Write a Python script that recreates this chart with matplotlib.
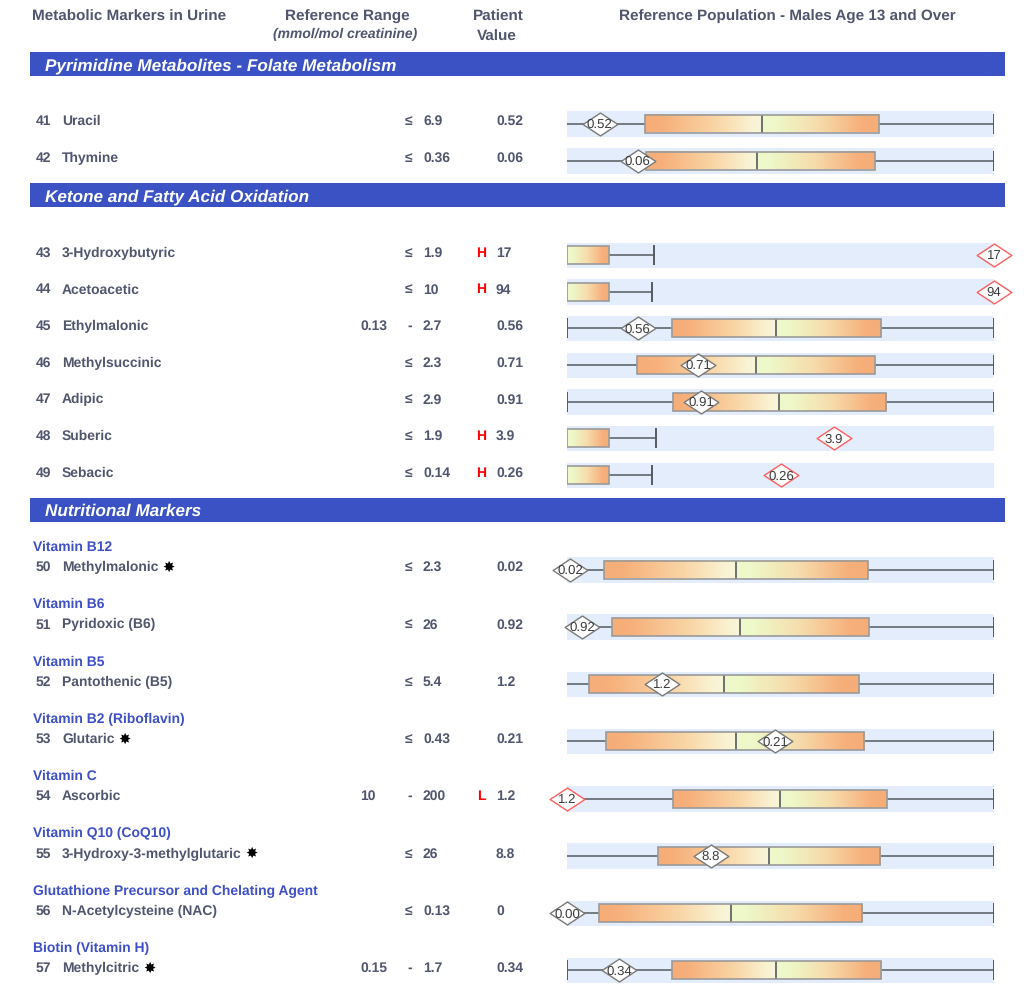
import numpy as np
import matplotlib
matplotlib.use('Agg')
import matplotlib.pyplot as plt
from matplotlib.patches import Rectangle
from matplotlib.path import Path
from matplotlib.colors import LinearSegmentedColormap

FONT = ['Liberation Sans', 'DejaVu Sans']
plt.rcParams['font.family'] = FONT
plt.rcParams['text.hinting'] = 'no_hinting'

# ---------------- data ----------------
section_titles = ['Pyrimidine Metabolites - Folate Metabolism',
                  'Ketone and Fatty Acid Oxidation',
                  'Nutritional Markers']
row_ids = list(range(41, 58))
row_names = ['Uracil', 'Thymine', '3-Hydroxybutyric', 'Acetoacetic', 'Ethylmalonic',
             'Methylsuccinic', 'Adipic', 'Suberic', 'Sebacic', 'Methylmalonic',
             'Pyridoxic (B6)', 'Pantothenic (B5)', 'Glutaric', 'Ascorbic',
             '3-Hydroxy-3-methylglutaric', 'N-Acetylcysteine (NAC)', 'Methylcitric']
row_section = [0, 0, 1, 1, 1, 1, 1, 1, 1, 2, 2, 2, 2, 2, 2, 2, 2]
vitamin_groups = [None] * 9 + ['Vitamin B12', 'Vitamin B6', 'Vitamin B5',
                               'Vitamin B2 (Riboflavin)', 'Vitamin C',
                               'Vitamin Q10 (CoQ10)',
                               'Glutathione Precursor and Chelating Agent',
                               'Biotin (Vitamin H)']
starred = [False] * 9 + [True, False, False, True, False, True, False, True]
ref_low = ['', '', '', '', '0.13', '', '', '', '', '', '', '', '', '10', '', '', '0.15']
ref_high = ['6.9', '0.36', '1.9', '10', '2.7', '2.3', '2.9', '1.9', '0.14',
            '2.3', '26', '5.4', '0.43', '200', '26', '0.13', '1.7']
flags = ['', '', 'H', 'H', '', '', '', 'H', 'H', '', '', '', '', 'L', '', '', '']
patient_values = ['0.52', '0.06', '17', '94', '0.56', '0.71', '0.91', '3.9', '0.26',
                  '0.02', '0.92', '1.2', '0.21', '1.2', '8.8', '0', '0.34']
marker_labels = ['0.52', '0.06', '17', '94', '0.56', '0.71', '0.91', '3.9', '0.26',
                 '0.02', '0.92', '1.2', '0.21', '1.2', '8.8', '0.00', '0.34']

# reference-population box plots, in track units (0 = left end, 100 = right end)
nan = np.nan
whisker_lo = [0, 0, nan, nan, 0, 0, 0, nan, nan, 0, 0, 0, 0, 0, 0, 0, 0]
q1 = [18.3, 18.5, 0, 0, 24.6, 16.4, 24.8, 0, 0, 8.7, 10.5, 5.2, 9.1, 24.8, 21.3, 7.5, 24.6]
median = [45.7, 44.5, 0, 0, 48.9, 44.3, 49.6, 0, 0, 39.6, 40.5, 36.8, 39.6, 49.9, 47.3, 38.4, 48.9]
q3 = [73.1, 72.1, 9.8, 9.8, 73.5, 72.1, 74.7, 9.8, 9.8, 70.5, 70.7, 68.4, 69.6, 74.9, 73.3, 69.1, 73.5]
whisker_hi = [100, 100, 20.4, 19.9, 100, 100, 100, 20.8, 19.9, 100, 100, 100, 100, 100, 100, 100, 100]
lo_cap = [False, False, False, False, True, False, True, False, False,
          False, False, False, False, True, False, False, True]
patient_pos = [7.7, 16.6, 100, 100, 16.6, 30.7, 31.4, 62.5, 50.1,
               0.7, 3.5, 22.2, 48.7, 0, 33.7, 0, 12.2]

# ---------------- layout ----------------
W, H = 1024, 1005
section_y = [64, 195, 509.5]
row_y = np.concatenate([123.5 + 37.0 * np.arange(2),
                        255 + 36.67 * np.arange(7),
                        569.5 + 57.27 * np.arange(8)])

TXT = '#51566f'
BLUE_BAR = '#3a52c4'
BLUE_TXT = '#3e50c8'
BAND = '#e3edfc'

fig = plt.figure(figsize=(W / 100, H / 100), dpi=100)
ax = fig.add_axes([0, 0, 1, 1])
ax.set_xlim(0, W)
ax.set_ylim(H, 0)
ax.axis('off')

TX0, TX1 = 567, 994
axt = fig.add_axes([TX0 / W, 0, (TX1 - TX0) / W, 1])
axt.patch.set_visible(False)
axt.axis('off')

# headers
ax.text(32, 20.5, 'Metabolic Markers in Urine', fontsize=11, fontweight='bold', color=TXT, va='baseline')
ax.text(347.5, 20.5, 'Reference Range', fontsize=11, fontweight='bold', color=TXT, va='baseline', ha='center')
ax.text(345, 38.5, '(mmol/mol creatinine)', fontsize=10, fontweight='bold', style='italic',
        color=TXT, va='baseline', ha='center')
ax.text(498, 20.5, 'Patient', fontsize=11, fontweight='bold', color=TXT, va='baseline', ha='center')
ax.text(497, 40.5, 'Value', fontsize=11, fontweight='bold', color=TXT, va='baseline', ha='center')
ax.text(787, 20.5, 'Reference Population - Males Age 13 and Over', fontsize=11,
        fontweight='bold', color=TXT, va='baseline', ha='center')

# section bars
for title, sy in zip(section_titles, section_y):
    ax.add_patch(Rectangle((30, sy - 12), 975, 24, fc=BLUE_BAR, ec='none'))
    ax.text(45, sy + 6.5, title, fontsize=12.3, fontweight='bold', style='italic',
            color='white', va='baseline')

left_cmap = LinearSegmentedColormap.from_list('l', [(0, '#f6ad78'), (0.15, '#f6b07b'),
                                                    (0.6, '#f9d5a5'), (0.92, '#f9f3d3'),
                                                    (1, '#f8f5d8')])
right_cmap = LinearSegmentedColormap.from_list('r', [(0, '#eff8cb'), (0.12, '#eef8c8'),
                                                     (0.48, '#f6dcac'), (0.85, '#f6b07b'),
                                                     (1, '#f6ad78')])
grad = np.linspace(0, 1, 256)[None, :]

diamond = Path([(-1, 0), (0, 0.66), (1, 0), (0, -0.66), (-1, 0)],
               [Path.MOVETO, Path.LINETO, Path.LINETO, Path.LINETO, Path.CLOSEPOLY])

fig.canvas.draw()
for i in range(len(row_ids)):
    y = row_y[i]
    tb = y + 1.7
    ax.text(36, tb, str(row_ids[i]), fontsize=10, fontweight='bold', color=TXT, va='baseline')
    nt = ax.text(62, tb, row_names[i], fontsize=10, fontweight='bold', color=TXT, va='baseline')
    if starred[i]:
        ax.annotate('\u2738', xy=(1, 0.5), xycoords=nt, xytext=(3, 0), textcoords='offset points',
                    fontsize=10.5, color='black', va='center', ha='left', family=['DejaVu Sans'])
    if vitamin_groups[i]:
        ax.text(33, y - 18.5, vitamin_groups[i], fontsize=10, fontweight='bold',
                color=BLUE_TXT, va='baseline')
    if ref_low[i]:
        ax.text(360, tb, ref_low[i], fontsize=10, fontweight='bold', color=TXT, va='baseline')
        ax.text(410, tb, '-', fontsize=10, fontweight='bold', color=TXT, va='baseline', ha='center')
    else:
        ax.text(408.5, tb, '\u2264', fontsize=10, fontweight='bold', color=TXT, va='baseline', ha='center')
    ax.text(423, tb, ref_high[i], fontsize=10, fontweight='bold', color=TXT, va='baseline')
    if flags[i]:
        ax.text(481, tb, flags[i], fontsize=10, fontweight='bold', color='#ff0000',
                va='baseline', ha='center')
    ax.text(496, tb, patient_values[i], fontsize=10, fontweight='bold', color=TXT, va='baseline')

    # track
    axt.add_patch(Rectangle((-0.2, y - 12.5), 100.4, 25.5, fc=BAND, ec='none', zorder=0))
    lw = 1.1
    lc = '#555a60'
    if not np.isnan(whisker_lo[i]):
        axt.hlines(y, whisker_lo[i], q1[i], color=lc, lw=lw, zorder=1)
        if lo_cap[i]:
            axt.vlines(whisker_lo[i], y - 10, y + 10, color=lc, lw=1.4, zorder=1)
    axt.hlines(y, q3[i], whisker_hi[i], color=lc, lw=lw, zorder=1)
    axt.vlines(whisker_hi[i], y - 10, y + 10, color=lc, lw=1.4, zorder=1)
    if median[i] > q1[i]:
        axt.imshow(grad, cmap=left_cmap, extent=(q1[i], median[i], y + 9, y - 9),
                   aspect='auto', zorder=2, interpolation='bilinear')
        axt.vlines(median[i], y - 9, y + 9, color='#555a60', lw=1.2, zorder=3)
    axt.imshow(grad, cmap=right_cmap, extent=(median[i], q3[i], y + 9, y - 9),
               aspect='auto', zorder=2, interpolation='bilinear')
    axt.add_patch(Rectangle((q1[i], y - 9), q3[i] - q1[i], 18, fill=False,
                            ec='#9a9a9a', lw=1.2, zorder=3))
    ec = '#ff5f5f' if flags[i] else '#7a7a7a'
    axt.plot([patient_pos[i]], [y], marker=diamond, ms=25, mfc='white', mec=ec,
             mew=1.0, ls='none', zorder=5, clip_on=False)
    axt.text(patient_pos[i], y + 1, marker_labels[i], fontsize=9.5, color='#3c3c3c',
             ha='center', va='center', zorder=6, clip_on=False)

axt.set_xlim(0, 100)
axt.set_ylim(H, 0)

fig.savefig('out.png', dpi=100)
